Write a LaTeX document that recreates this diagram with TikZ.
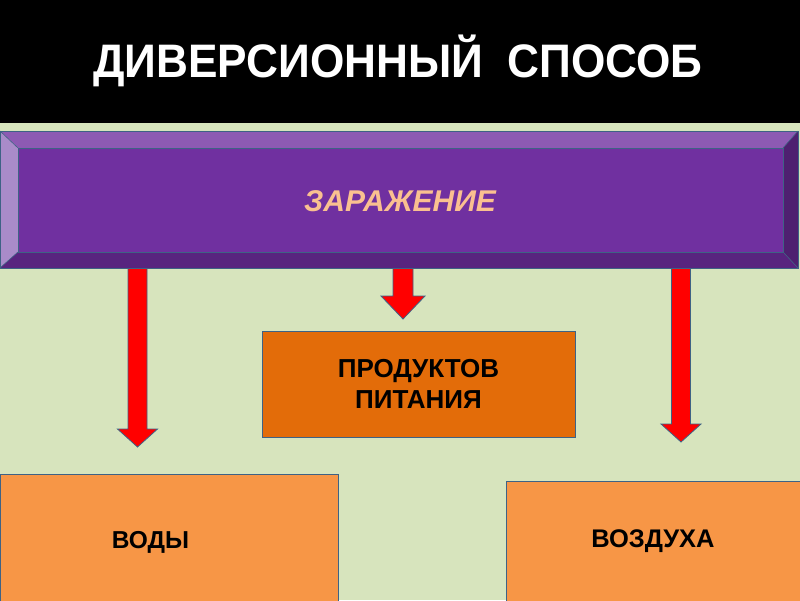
\documentclass[tikz,border=0pt]{standalone}
\usepackage{fontspec}
\setmainfont{Liberation Sans}
\usetikzlibrary{calc}
\definecolor{bg}{HTML}{D7E4BD}
\definecolor{purp}{HTML}{7030A0}
\definecolor{purpT}{HTML}{8D5AB3}
\definecolor{purpL}{HTML}{A98BC9}
\definecolor{purpB}{HTML}{58247F}
\definecolor{purpR}{HTML}{4E2070}
\definecolor{edgec}{HTML}{3E6285}
\definecolor{peach}{HTML}{FAC090}
\definecolor{orD}{HTML}{E36C09}
\definecolor{orL}{HTML}{F79646}
\definecolor{arrred}{HTML}{FF0000}
\newcommand\blockarr[6]{%
  \filldraw[fill=arrred,draw=edgec,line width=0.8pt,line join=miter]
    ({#1-#5},#2) -- ({#1-#5},#3) -- ({#1-#6},#3) -- (#1,#4) -- ({#1+#6},#3) -- ({#1+#5},#3) -- ({#1+#5},#2) -- cycle;}
\begin{document}
\begin{tikzpicture}[x=1pt,y=-1pt,
  box/.style={draw=edgec, line width=1pt, inner sep=0pt},
  lbl/.style={text=black, align=center, inner sep=0pt}]
\useasboundingbox (0,0) rectangle (800,600);
\fill[bg] (0,0) rectangle (800,600);
\fill[black] (0,0) rectangle (800,123);
\node[text=white, xscale=0.94, font=\bfseries\fontsize{47}{50}\selectfont] (title) at (398,61) {ДИВЕРСИОННЫЙ\ \ СПОСОБ};
% arrows
\blockarr{137.5}{262}{429}{447}{9.5}{20}
\blockarr{403}{262}{296}{319}{10}{22}
\blockarr{681}{262}{424}{442}{9.5}{20}
% purple bevel box
\fill[purpT] (0,131) -- (798,131) -- (783,148) -- (18,148) -- cycle;
\fill[purpL] (0,131) -- (18,148) -- (18,252) -- (0,268) -- cycle;
\fill[purpB] (0,268) -- (18,252) -- (783,252) -- (798,268) -- cycle;
\fill[purpR] (798,131) -- (783,148) -- (783,252) -- (798,268) -- cycle;
\fill[purp] (18,148) rectangle (783,252);
\draw[edgec, line width=0.6pt] (0,131) -- (18,148) (798,131) -- (783,148) (0,268) -- (18,252) (798,268) -- (783,252);
\draw[edgec, line width=0.6pt] (18,148) rectangle (783,252);
\node[box, minimum width=798pt, minimum height=137pt] (inf) at (399,199.5) {};
\node[text=peach, font=\bfseries\itshape\fontsize{30}{34}\selectfont] (infT) at (400,201) {ЗАРАЖЕНИЕ};
% boxes
\node[box, fill=orD, minimum width=313pt, minimum height=106pt] (prod) at (418.5,384) {};
\node[lbl, font=\bfseries\fontsize{26}{31}\selectfont] (prodT) at (418.5,384) {ПРОДУКТОВ\\ПИТАНИЯ};
\node[box, fill=orL, minimum width=338pt, minimum height=130pt] (vody) at (169,539) {};
\node[lbl, font=\bfseries\fontsize{24.5}{28}\selectfont] (vodyT) at (150.5,542) {ВОДЫ};
\node[box, fill=orL, minimum width=294pt, minimum height=124pt] (vozd) at (653,543) {};
\node[lbl, font=\bfseries\fontsize{25.5}{28}\selectfont] (vozdT) at (653,541) {ВОЗДУХА};
\end{tikzpicture}
\end{document}
